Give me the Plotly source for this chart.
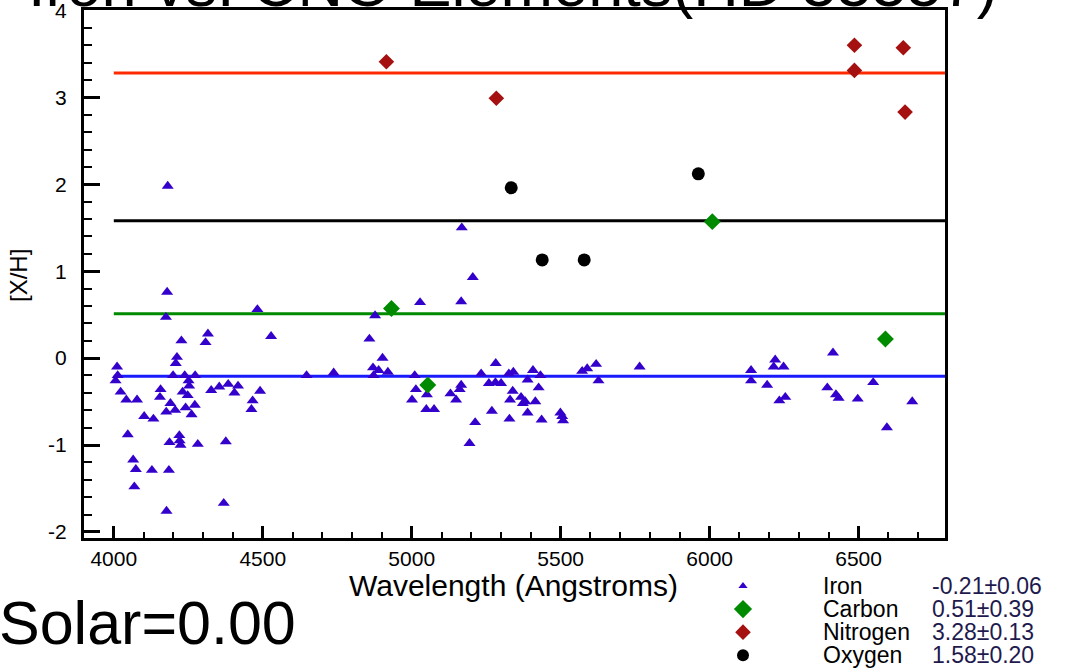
import plotly.graph_objects as go

# ---------------- data ----------------
iron_wl = [4006, 4011, 4013, 4023, 4042, 4047, 4065, 4069, 4074, 4078,
           4102, 4128, 4133, 4155, 4157, 4175, 4176, 4177, 4179, 4181,
           4185, 4187, 4190, 4199, 4206, 4208, 4212, 4220, 4221, 4224,
           4227, 4231, 4238, 4241, 4248, 4251, 4253, 4261, 4272, 4273,
           4282, 4308, 4316, 4327, 4354, 4369, 4376, 4384, 4405, 4417,
           4462, 4466, 4482, 4491, 4528, 4647, 4738, 4858, 4870, 4872,
           4877, 4889, 4902, 4920, 5001, 5010, 5014, 5028, 5049, 5051,
           5075, 5130, 5149, 5161, 5166, 5166, 5168, 5194, 5205, 5213,
           5233, 5259, 5269, 5281, 5282, 5300, 5326, 5328, 5330, 5339,
           5341, 5367, 5373, 5381, 5389, 5389, 5407, 5415, 5426, 5432,
           5436, 5499, 5505, 5508, 5572, 5589, 5619, 5627, 5765, 6139,
           6139, 6193, 6215, 6220, 6234, 6248, 6254, 6395, 6414, 6424,
           6433, 6497, 6549, 6595, 6680]
iron_xh = [-0.26, -0.10, -0.20, -0.39, -0.48, -0.88, -1.17, -1.48, -1.28, -0.48,
           -0.67, -1.29, -0.70, -0.45, -0.36, 0.47, -0.62, -1.76, 0.76, 1.98,
           -1.29, -0.97, -0.52, -0.20, -0.60, -0.06, 0.01, -0.89, -0.95, -1.00,
           0.20, -0.39, -0.20, -0.57, -0.43, -0.26, -0.32, -0.65, -0.54, -0.20,
           -0.99, 0.18, 0.28, -0.37, -0.33, -1.67, -0.96, -0.30, -0.40, -0.32,
           -0.59, -0.49, 0.56, -0.38, 0.25, -0.20, -0.17, 0.22, -0.11, -0.20,
           0.49, -0.14, 0.00, -0.16, -0.48, -0.20, -0.36, 0.64, -0.59, -0.42,
           -0.59, -0.41, -0.48, -0.36, -0.31, 0.65, 1.50, -0.98, 0.93, -0.74,
           -0.18, -0.29, -0.61, -0.28, -0.06, -0.29, -0.18, -0.70, -0.48, -0.38,
           -0.16, -0.45, -0.52, -0.50, -0.25, -0.63, -0.14, -0.50, -0.34, -0.20,
           -0.71, -0.63, -0.67, -0.72, -0.15, -0.12, -0.07, -0.26, -0.10, -0.14,
           -0.26, -0.31, -0.10, -0.02, -0.49, -0.10, -0.45, -0.34, 0.06, -0.42,
           -0.46, -0.47, -0.28, -0.80, -0.50]

carbon_wl = [4932, 5054, 6009, 6590]
carbon_xh = [0.57, -0.31, 1.57, 0.22]

nitrogen_wl = [4915, 5284, 6486, 6486, 6650, 6656]
nitrogen_xh = [3.41, 2.99, 3.60, 3.31, 3.57, 2.83]

oxygen_wl = [5334, 5438, 5579, 5962]
oxygen_xh = [1.96, 1.13, 1.13, 2.12]

elements = ["Iron", "Carbon", "Nitrogen", "Oxygen"]
mean_xh = [-0.21, 0.51, 3.28, 1.58]
err_xh = [0.06, 0.39, 0.13, 0.20]
line_wl = [4000, 6800]

x_tick_vals = [4000, 4500, 5000, 5500, 6000, 6500]
x_tick_text = ["4000", "4500", "5000", "5500", "6000", "6500"]
y_tick_vals = [-2, -1, 0, 1, 2, 3, 4]
y_tick_text = ["-2", "-1", "0", "1", "2", "3", "4"]

title_text = "Iron vs. CNO Elements(HD 55557)"
solar_text = "Solar=0.00"
x_title = "Wavelength (Angstroms)"
y_title = "[X/H]"

# ---------------- styles ----------------
W, H = 1073, 671
FONT = "Liberation Sans, Arial, sans-serif"
marker_colors = ["#3300cc", "#008a00", "#a51010", "#000000"]
line_colors = ["#1a1aff", "#008a00", "#ff2a00", "#000000"]
symbols = ["triangle-up", "diamond", "diamond", "circle"]
sizes = [10.5, 13, 12, 13]
legend_sizes = [8, 14, 12, 12]

series_wl = [iron_wl, carbon_wl, nitrogen_wl, oxygen_wl]
series_xh = [iron_xh, carbon_xh, nitrogen_xh, oxygen_xh]

# plot area in pixels
PL, PR, PT, PB = 84, 945, 10, 538

fig = go.Figure()

# mean lines
for i, name in enumerate(elements):
    fig.add_trace(go.Scatter(
        x=line_wl, y=[mean_xh[i], mean_xh[i]], mode="lines",
        line=dict(color=line_colors[i], width=3), showlegend=False,
        hoverinfo="skip"))

# data points
for i, name in enumerate(elements):
    fig.add_trace(go.Scatter(
        x=series_wl[i], y=series_xh[i], mode="markers", name=name,
        marker=dict(symbol=symbols[i], size=sizes[i], color=marker_colors[i],
                    opacity=1, line=dict(width=0)),
        showlegend=False))

# custom legend keys on a helper axis (rows by index)
rows = list(range(len(elements)))
fig.add_trace(go.Scatter(
    x=[0] * len(elements), y=rows, mode="markers", xaxis="x2", yaxis="y2",
    marker=dict(symbol=symbols, size=legend_sizes, color=marker_colors,
                opacity=1, line=dict(width=0)),
    showlegend=False, hoverinfo="skip"))

axis_common = dict(showline=True, linewidth=3, linecolor="black", mirror=True,
                   showgrid=False, zeroline=False, ticks="inside",
                   tickcolor="black", ticklabeloverflow="allow",
                   tickfont=dict(family=FONT, size=21, color="black"))

fig.update_layout(
    width=W, height=H,
    margin=dict(l=0, r=0, t=0, b=0),
    paper_bgcolor="white", plot_bgcolor="white",
    showlegend=False,
    xaxis=dict(domain=[PL / W, PR / W], range=[3900, 6790],
               tickmode="array", tickvals=x_tick_vals, ticktext=x_tick_text,
               ticklen=12, tickwidth=2.5, ticklabelstandoff=0,
               minor=dict(dtick=100, tick0=0, ticks="inside", ticklen=6,
                          tickwidth=1.5, tickcolor="black"),
               automargin=False, **axis_common),
    yaxis=dict(domain=[(H - PB) / H, (H - PT) / H], range=[-2.07, 4.005],
               tickmode="array", tickvals=y_tick_vals, ticktext=y_tick_text,
               ticklen=16, tickwidth=2.5, ticklabelstandoff=10,
               minor=dict(dtick=0.2, tick0=0, ticks="inside", ticklen=8,
                          tickwidth=1.5, tickcolor="black"),
               automargin=False, **axis_common),
    xaxis2=dict(domain=[700 / W, 1.0], range=[-43, 330], visible=False,
                anchor="y2", fixedrange=True),
    yaxis2=dict(domain=[0.0, (H - 570) / H], range=[3.68, -0.69], visible=False,
                anchor="x2", fixedrange=True),
)

annotations = []
# legend texts
for i, name in enumerate(elements):
    annotations.append(dict(x=78, y=i, xref="x2", yref="y2", text=name,
                            showarrow=False, xanchor="left", yanchor="middle",
                            font=dict(family=FONT, size=23, color="black")))
    annotations.append(dict(x=187, y=i, xref="x2", yref="y2",
                            text=f"{mean_xh[i]:.2f}\u00b1{err_xh[i]:.2f}",
                            showarrow=False, xanchor="left", yanchor="middle",
                            font=dict(family=FONT, size=23, color="#1e1a4e")))
# title (cut off at the top)
annotations.append(dict(x=513 / W, y=(H + 16) / H, xref="paper", yref="paper",
                        text=title_text, showarrow=False, xanchor="center",
                        yanchor="middle", font=dict(family=FONT, size=63, color="black")))
# Solar note
annotations.append(dict(x=-3 / W, y=(H - 623) / H, xref="paper", yref="paper",
                        text=solar_text, showarrow=False, xanchor="left",
                        yanchor="middle", font=dict(family=FONT, size=61, color="black")))
# axis titles
annotations.append(dict(x=513 / W, y=(H - 585) / H, xref="paper", yref="paper",
                        text=x_title, showarrow=False, xanchor="center",
                        yanchor="middle", font=dict(family=FONT, size=30, color="black")))
annotations.append(dict(x=18 / W, y=(H - 276) / H, xref="paper", yref="paper",
                        text=y_title, showarrow=False, xanchor="center",
                        yanchor="middle", textangle=-90,
                        font=dict(family=FONT, size=24, color="black")))
fig.update_layout(annotations=annotations)

fig.write_html("out.html", config={"displayModeBar": False},
               post_script="document.body.style.margin='0';document.body.style.overflow='hidden';")
